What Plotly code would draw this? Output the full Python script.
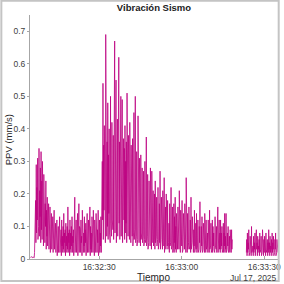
import numpy as np
import pandas as pd
import plotly.graph_objects as go

# Sampling: one value every 0.125 s; times in seconds after 16:32:00 on 2025-07-17
sample_dt = 0.125
base_time = "2025-07-17 16:32:00"

# Onset segment (starts at 5.0 s) - one row per second
onset_start = 5.0
ppv_onset = [
    0.005, 0.006, 0.004, 0.005, 0.007, 0.005, 0.004, 0.006,
    0.006, 0.005, 0.006, 0.004, 0.02, 0.09, 0.03, 0.18,
    0.05, 0.29, 0.08, 0.22, 0.12, 0.31, 0.06, 0.25,
    0.10, 0.34, 0.07, 0.21, 0.13, 0.28, 0.05, 0.33,
    0.09, 0.24, 0.06, 0.30, 0.11, 0.19, 0.04, 0.26,
    0.08, 0.22, 0.05, 0.17, 0.10, 0.24, 0.03, 0.15,
    0.07, 0.19, 0.04, 0.13, 0.08, 0.17, 0.03, 0.12,
    0.06, 0.16, 0.02, 0.11, 0.07, 0.14, 0.03, 0.10,
    0.05, 0.13, 0.02, 0.09, 0.06, 0.15, 0.03, 0.08,
    0.04, 0.11, 0.02, 0.08, 0.05, 0.12, 0.01, 0.09,
    0.04, 0.10, 0.02, 0.07, 0.05, 0.13, 0.02, 0.08,
    0.03, 0.09, 0.01, 0.12, 0.04, 0.07, 0.02, 0.10,
    0.03, 0.14, 0.02, 0.08, 0.05, 0.09, 0.01, 0.11,
    0.04, 0.07, 0.02, 0.10, 0.03, 0.16, 0.02, 0.08,
    0.05, 0.09, 0.01, 0.12, 0.03, 0.08, 0.02, 0.10,
    0.04, 0.13, 0.02, 0.07, 0.05, 0.09, 0.01, 0.11,
    0.03, 0.19, 0.02, 0.08, 0.04, 0.12, 0.02, 0.09,
    0.05, 0.14, 0.01, 0.08, 0.03, 0.17, 0.02, 0.10,
    0.04, 0.09, 0.02, 0.12, 0.05, 0.07, 0.01, 0.15,
    0.03, 0.10, 0.02, 0.08, 0.04, 0.13, 0.02, 0.09,
    0.05, 0.11, 0.01, 0.07, 0.03, 0.14, 0.02, 0.08,
    0.04, 0.12, 0.02, 0.09, 0.05, 0.16, 0.01, 0.10,
    0.03, 0.08, 0.02, 0.13, 0.04, 0.09, 0.02, 0.15,
    0.05, 0.10, 0.01, 0.12, 0.03, 0.08, 0.02, 0.14,
    0.04, 0.11, 0.02, 0.09, 0.05, 0.15, 0.01, 0.10,
    0.03, 0.12, 0.02, 0.08, 0.04, 0.13, 0.02, 0.11,
]

# Main shaking segment (starts at 31.0 s) - one row per second
main_start = 31.0
ppv_main = [
    0.08, 0.30, 0.12, 0.54, 0.06, 0.35, 0.15, 0.41,
    0.09, 0.38, 0.05, 0.69, 0.13, 0.44, 0.07, 0.36,
    0.10, 0.48, 0.06, 0.32, 0.14, 0.40, 0.08, 0.37,
    0.05, 0.50, 0.11, 0.34, 0.07, 0.42, 0.12, 0.31,
    0.09, 0.38, 0.06, 0.45, 0.13, 0.67, 0.08, 0.35,
    0.10, 0.55, 0.05, 0.33, 0.12, 0.43, 0.07, 0.39,
    0.08, 0.62, 0.11, 0.36, 0.06, 0.34, 0.13, 0.50,
    0.07, 0.40, 0.10, 0.49, 0.05, 0.32, 0.09, 0.37,
    0.12, 0.34, 0.06, 0.41, 0.08, 0.30, 0.11, 0.36,
    0.05, 0.51, 0.09, 0.33, 0.07, 0.38, 0.10, 0.29,
    0.06, 0.42, 0.08, 0.31, 0.05, 0.35, 0.09, 0.28,
    0.07, 0.37, 0.04, 0.32, 0.08, 0.45, 0.06, 0.30,
    0.09, 0.50, 0.05, 0.29, 0.07, 0.33, 0.04, 0.27,
    0.06, 0.44, 0.08, 0.26, 0.05, 0.31, 0.07, 0.24,
    0.04, 0.32, 0.06, 0.25, 0.08, 0.28, 0.05, 0.22,
    0.07, 0.27, 0.04, 0.23, 0.06, 0.30, 0.05, 0.21,
    0.06, 0.375, 0.04, 0.22, 0.07, 0.26, 0.03, 0.20,
    0.05, 0.24, 0.07, 0.19, 0.04, 0.28, 0.06, 0.18,
    0.03, 0.27, 0.06, 0.17, 0.05, 0.21, 0.04, 0.16,
    0.06, 0.20, 0.03, 0.24, 0.05, 0.15, 0.07, 0.19,
    0.04, 0.18, 0.06, 0.22, 0.03, 0.14, 0.05, 0.17,
    0.05, 0.27, 0.03, 0.16, 0.06, 0.19, 0.04, 0.13,
    0.03, 0.21, 0.05, 0.15, 0.04, 0.25, 0.02, 0.14,
    0.05, 0.16, 0.03, 0.20, 0.06, 0.12, 0.04, 0.18,
    0.03, 0.15, 0.05, 0.11, 0.02, 0.17, 0.04, 0.13,
    0.05, 0.22, 0.03, 0.12, 0.04, 0.16, 0.02, 0.11,
    0.04, 0.17, 0.02, 0.13, 0.05, 0.19, 0.03, 0.10,
    0.02, 0.14, 0.04, 0.11, 0.03, 0.16, 0.05, 0.12,
    0.03, 0.21, 0.05, 0.10, 0.02, 0.15, 0.04, 0.13,
    0.04, 0.18, 0.02, 0.11, 0.03, 0.14, 0.05, 0.09,
    0.03, 0.17, 0.04, 0.12, 0.02, 0.25, 0.04, 0.10,
    0.02, 0.14, 0.03, 0.11, 0.05, 0.16, 0.03, 0.09,
    0.04, 0.12, 0.02, 0.19, 0.03, 0.10, 0.05, 0.13,
    0.03, 0.13, 0.02, 0.09, 0.04, 0.15, 0.02, 0.11,
    0.04, 0.11, 0.03, 0.14, 0.02, 0.09, 0.04, 0.12,
    0.02, 0.12, 0.03, 0.10, 0.05, 0.176, 0.02, 0.09,
    0.03, 0.10, 0.04, 0.13, 0.02, 0.08, 0.03, 0.11,
    0.04, 0.11, 0.02, 0.14, 0.03, 0.09, 0.02, 0.12,
    0.03, 0.10, 0.04, 0.08, 0.02, 0.12, 0.03, 0.09,
    0.02, 0.15, 0.03, 0.09, 0.04, 0.11, 0.02, 0.08,
    0.03, 0.12, 0.02, 0.10, 0.04, 0.08, 0.03, 0.11,
    0.02, 0.13, 0.04, 0.09, 0.03, 0.10, 0.02, 0.08,
    0.03, 0.16, 0.02, 0.09, 0.04, 0.12, 0.03, 0.08,
    0.02, 0.12, 0.03, 0.08, 0.04, 0.10, 0.02, 0.09,
    0.03, 0.11, 0.02, 0.08, 0.04, 0.14, 0.02, 0.07,
    0.03, 0.14, 0.02, 0.09, 0.03, 0.08, 0.04, 0.10,
    0.02, 0.10, 0.03, 0.07, 0.02, 0.09, 0.03, 0.08,
    0.02, 0.09, 0.03, 0.06,
]

# Tail segment after the data gap (starts at 83.5 s)
tail_start = 83.5
ppv_tail = [
    0.02, 0.06, 0.01, 0.08,
    0.02, 0.05, 0.03, 0.09, 0.01, 0.06, 0.02, 0.07,
    0.03, 0.05, 0.01, 0.10, 0.02, 0.06, 0.03, 0.04,
    0.01, 0.07, 0.02, 0.05, 0.03, 0.08, 0.01, 0.06,
    0.02, 0.09, 0.03, 0.05, 0.01, 0.07, 0.02, 0.04,
    0.03, 0.06, 0.01, 0.08, 0.02, 0.05, 0.03, 0.07,
    0.01, 0.05, 0.02, 0.09, 0.03, 0.04, 0.01, 0.06,
    0.02, 0.07, 0.03, 0.05, 0.01, 0.08, 0.02, 0.04,
    0.03, 0.06, 0.01, 0.05, 0.02, 0.09, 0.03, 0.05,
    0.01, 0.07, 0.02, 0.04, 0.03, 0.06, 0.01, 0.08,
    0.02, 0.05, 0.03, 0.07, 0.01, 0.04, 0.02, 0.06,
    0.03, 0.08, 0.01, 0.05, 0.02, 0.06, 0.03, 0.04,
    0.02,
]

x_tick_times = ["2025-07-17 16:32:30", "2025-07-17 16:33:00", "2025-07-17 16:33:30"]
x_tick_labels = ["16:32:30", "16:33:00", "16:33:30"]
y_tick_vals = [0, 0.1, 0.2, 0.3, 0.4, 0.5, 0.6, 0.7]
x_range_s = [4.85, 95.0]

t0 = pd.Timestamp(base_time)
t_onset = t0 + pd.to_timedelta(onset_start + np.arange(len(ppv_onset)) * sample_dt, unit="s")
t_main = t0 + pd.to_timedelta(main_start + np.arange(len(ppv_main)) * sample_dt, unit="s")
t_tail = t0 + pd.to_timedelta(tail_start + np.arange(len(ppv_tail)) * sample_dt, unit="s")

t_first = t_onset.append(t_main)
ppv_first = ppv_onset + ppv_main

line_color = "rgb(188,0,128)"
fig = go.Figure()
for tx, vy in [(t_first, ppv_first), (t_tail, ppv_tail)]:
    fig.add_trace(go.Scatter(x=tx, y=vy, mode="lines",
                             line=dict(color=line_color, width=0.8), hoverinfo="skip"))

W = H = 284
ml, mr, mt, mb = 30, 3, 15, 25
pw, ph = W - ml - mr, H - mt - mb

def px(xp):
    return (xp - ml) / pw

def py(yp):
    return (H - mb - yp) / ph

font = "Liberation Sans, Arial, sans-serif"
axis_grey = "#a6a6a6"
text_grey = "#404040"

fig.update_layout(
    width=W, height=H,
    margin=dict(l=ml, r=mr, t=mt, b=mb),
    paper_bgcolor="white", plot_bgcolor="white",
    showlegend=False,
    font=dict(family=font, size=9, color=text_grey),
    title=dict(text="<b>Vibración Sismo</b>", x=px(155.5), xref="paper",
               xanchor="center", y=1 - 8 / H, yanchor="middle",
               font=dict(size=9.5, color="#222222", family=font)),
    xaxis=dict(
        range=[t0 + pd.Timedelta(seconds=x_range_s[0]), t0 + pd.Timedelta(seconds=x_range_s[1])],
        tickvals=pd.to_datetime(x_tick_times), ticktext=x_tick_labels,
        showgrid=False, zeroline=False, showline=True, linecolor=axis_grey, linewidth=1,
        ticks="inside", ticklen=3, tickcolor=axis_grey,
        tickfont=dict(size=8.5, color=text_grey),
    ),
    yaxis=dict(
        range=[0, 0.75], tickvals=y_tick_vals,
        ticktext=[("%g" % v) for v in y_tick_vals],
        showgrid=False, zeroline=False, showline=True, linecolor=axis_grey, linewidth=1,
        ticks="outside", ticklen=2, tickcolor=axis_grey,
        tickfont=dict(size=8.5, color=text_grey),
    ),
    annotations=[
        dict(text="Tiempo", xref="paper", yref="paper", x=px(155), y=py(277),
             showarrow=False, xanchor="center", yanchor="middle",
             font=dict(size=10, color="#262626")),
        dict(text="Jul 17, 2025", xref="paper", yref="paper", x=px(282), y=py(277.5),
             showarrow=False, xanchor="right", yanchor="middle",
             font=dict(size=8.5, color=text_grey)),
        dict(text="PPV (mm/s)", xref="paper", yref="paper", x=px(8), y=py(140),
             showarrow=False, xanchor="center", yanchor="middle", textangle=-90,
             font=dict(size=9.5, color="#262626")),
    ],
    shapes=[
        dict(type="rect", xref="paper", yref="paper",
             x0=px(1), x1=px(281.7), y0=py(281), y1=py(0.7),
             line=dict(color="#c4c4c4", width=2)),
    ],
)

fig.write_html("out.html")
